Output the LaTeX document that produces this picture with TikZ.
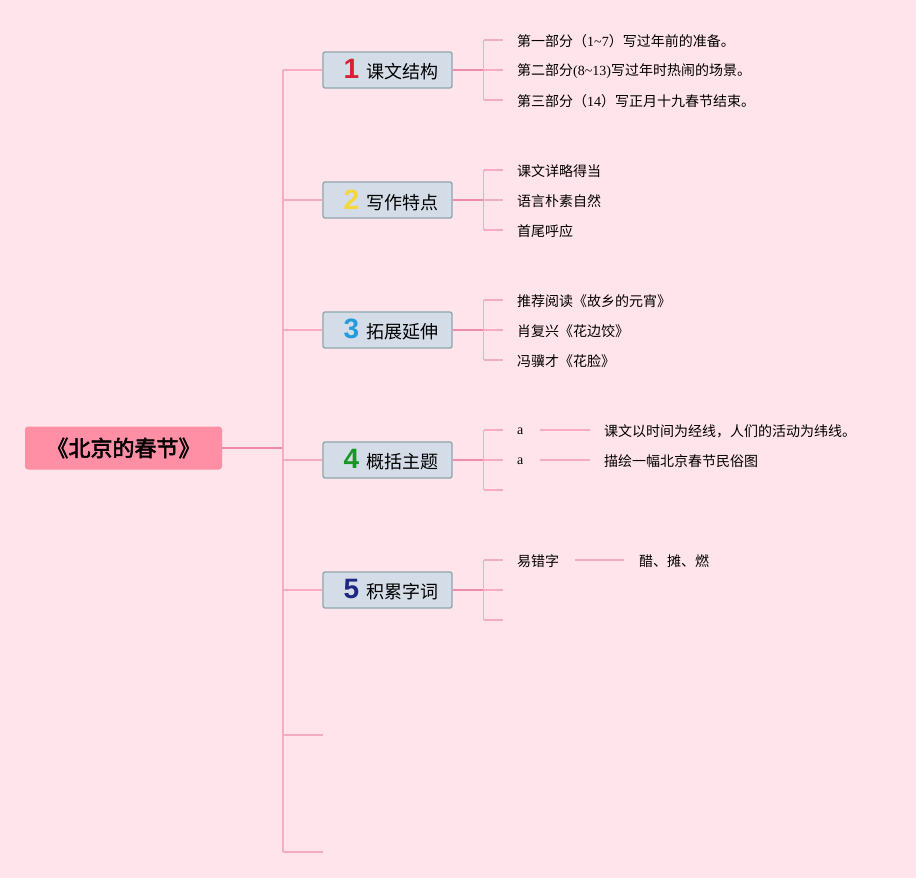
\documentclass[tikz,border=0pt]{standalone}
\usepackage{fontspec}
\setmainfont{Liberation Serif}
\newfontfamily\cjk{Noto Sans CJK SC}
\newfontfamily\cjkbold{Noto Sans CJK SC}[FakeBold=2.5]
\newfontfamily\numfont{Liberation Sans}
\usepackage{xcolor}
\usetikzlibrary{positioning}
\definecolor{bgpink}{RGB}{255,229,235}
\definecolor{linepink}{RGB}{246,172,192}
\definecolor{darkpink}{RGB}{236,140,170}
\definecolor{rootpink}{RGB}{255,143,165}
\definecolor{topicfill}{RGB}{212,221,231}
\definecolor{topicedge}{RGB}{140,166,170}
\definecolor{numred}{RGB}{220,30,50}
\definecolor{numyellow}{RGB}{245,215,60}
\definecolor{numblue}{RGB}{35,155,220}
\definecolor{numgreen}{RGB}{25,150,40}
\definecolor{numnavy}{RGB}{30,40,130}
\newcommand{\topicnum}[2]{\hspace{7pt}{\numfont\bfseries\color{#1}\fontsize{28}{28}\selectfont #2}\hspace{7pt}}
\tikzset{
	topic/.style = {draw = topicedge, fill = topicfill, line width = 1.3pt, rounded corners = 2pt, minimum width = 129pt, minimum height = 36pt, inner sep = 0pt, font = \cjk\fontsize{18}{18}\selectfont},
	leaf/.style = {anchor = west, inner sep = 0pt, font = \fontsize{14}{14}\selectfont},
	spine/.style = {draw = linepink, line width = 1.5pt},
	stem/.style = {draw = darkpink, line width = 2pt},
	twig/.style = {draw = linepink, line width = 1.1pt}
}

\begin{document}
\begin{tikzpicture}[x = 1pt, y = -1pt]
	\fill[bgpink] (0,0) rectangle (916,878);
	\useasboundingbox (0,0) rectangle (916,878);
	\node[fill = rootpink, rounded corners = 3pt, minimum width = 197pt, minimum height = 43pt, inner sep = 0pt, font = \cjkbold\fontsize{22}{22}\selectfont] (root) at (123.5,448) {《北京的春节》};
%
	\node[topic] (t1) at (387.5,70) {\topicnum{numred}{1}课文结构};
	\node[topic] (t2) at (387.5,200) {\topicnum{numyellow}{2}写作特点};
	\node[topic] (t3) at (387.5,330) {\topicnum{numblue}{3}拓展延伸};
	\node[topic] (t4) at (387.5,460) {\topicnum{numgreen}{4}概括主题};
	\node[topic] (t5) at (387.5,590) {\topicnum{numnavy}{5}积累字词};
	\coordinate (e1) at (323,735);
	\coordinate (e2) at (323,852);
	\coordinate (sp0) at (283,448);
	\coordinate (sptop) at (283,70);
	\coordinate (spbot) at (283,852);
	\draw[stem] (root.east) -- (sp0);
	\draw[spine] (sptop) -- (spbot);
	\foreach \t in {t1,t2,t3,t4,t5}
		\draw[spine] (\t.west -| sptop) -- (\t.west);
	\draw[spine] (e1 -| sptop) -- (e1);
	\draw[spine] (e2 -| sptop) -- (e2);
%
	\foreach \t in {t1,t2,t3,t4,t5} {
		\coordinate (\t b) at ([xshift = 31pt]\t.east);
		\draw[stem] (\t.east) -- (\t b);
		\draw[twig] ([yshift = -30pt]\t b) -- ([yshift = 30pt]\t b);
		\draw[twig] ([yshift = -30pt]\t b) -- ++(19,0);
		\draw[twig] (\t b) -- ++(19,0);
		\draw[twig] ([yshift = 30pt]\t b) -- ++(19,0);
	}
%
	\node[leaf] (l11) at (517,41.5) {{\cjk 第一部分（}1\textasciitilde7{\cjk ）写过年前的准备。}};
	\node[leaf] (l12) at (517,71.5) {{\cjk 第二部分}(8\textasciitilde13){\cjk 写过年时热闹的场景。}};
	\node[leaf] (l13) at (517,101.5) {{\cjk 第三部分（}14{\cjk ）写正月十九春节结束。}};
	\node[leaf, font = \cjk\fontsize{14}{14}\selectfont] (l21) at (517,171.5) {课文详略得当};
	\node[leaf, font = \cjk\fontsize{14}{14}\selectfont] (l22) at (517,201.5) {语言朴素自然};
	\node[leaf, font = \cjk\fontsize{14}{14}\selectfont] (l23) at (517,231.5) {首尾呼应};
	\node[leaf, font = \cjk\fontsize{14}{14}\selectfont] (l31) at (517,301.5) {推荐阅读《故乡的元宵》};
	\node[leaf, font = \cjk\fontsize{14}{14}\selectfont] (l32) at (517,331.5) {肖复兴《花边饺》};
	\node[leaf, font = \cjk\fontsize{14}{14}\selectfont] (l33) at (517,361.5) {冯骥才《花脸》};
	\node[leaf] (l41) at (517,431.5) {a};
	\node[leaf] (l42) at (517,461.5) {a};
	\node[leaf, font = \cjk\fontsize{14}{14}\selectfont] (d41) at (604,431.5) {课文以时间为经线，人们的活动为纬线。};
	\node[leaf, font = \cjk\fontsize{14}{14}\selectfont] (d42) at (604,461.5) {描绘一幅北京春节民俗图};
	\node[leaf, font = \cjk\fontsize{14}{14}\selectfont] (l51) at (517,561.5) {易错字};
	\node[leaf, font = \cjk\fontsize{14}{14}\selectfont] (d51) at (639,561.5) {醋、摊、燃};
	\draw[twig] ([xshift = 16pt]l41.east |- 0,430) -- ([xshift = -14pt]d41.west |- 0,430);
	\draw[twig] ([xshift = 16pt]l42.east |- 0,460) -- ([xshift = -14pt]d42.west |- 0,460);
	\draw[twig] ([xshift = 16pt]l51.east |- 0,560) -- ([xshift = -15pt]d51.west |- 0,560);
\end{tikzpicture}
\end{document}
